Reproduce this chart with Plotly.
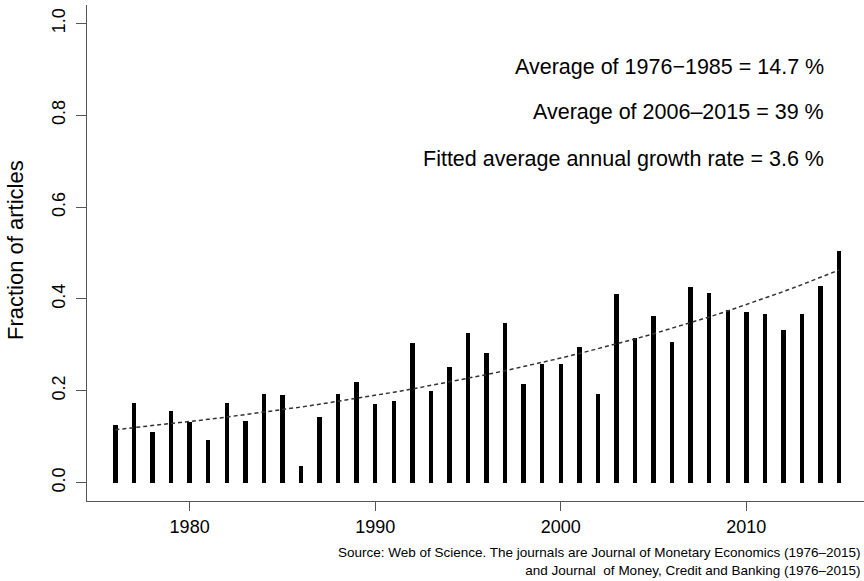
import numpy as np
import plotly.graph_objects as go

years = list(range(1976, 2016))
fraction = [0.126, 0.174, 0.110, 0.155, 0.132, 0.093, 0.173, 0.135, 0.194, 0.190,
            0.036, 0.142, 0.194, 0.220, 0.171, 0.177, 0.304, 0.199, 0.252, 0.325,
            0.283, 0.348, 0.214, 0.259, 0.258, 0.296, 0.194, 0.410, 0.314, 0.362,
            0.306, 0.426, 0.414, 0.375, 0.371, 0.367, 0.332, 0.368, 0.428, 0.504]

x_ticks = [1980, 1990, 2000, 2010]
y_ticks = [0.0, 0.2, 0.4, 0.6, 0.8, 1.0]
y_ticklabels = ["0.0", "0.2", "0.4", "0.6", "0.8", "1.0"]

info_lines = [
    "Average of 1976\u22121985 = 14.7 %",
    "Average of 2006\u20132015 = 39 %",
    "Fitted average annual growth rate = 3.6 %",
]
source_text = ("Source: Web of Science. The journals are Journal of Monetary Economics (1976\u20132015)"
               "<br>and Journal  of Money, Credit and Banking (1976\u20132015)")

# fitted exponential trend (log-linear least squares on the data)
yr = np.array(years, dtype=float)
coef = np.polyfit(yr - yr[0], np.log(np.array(fraction)), 1)
trend = np.exp(coef[1] + coef[0] * (yr - yr[0]))

FONT = "Liberation Sans, Arial, Helvetica, sans-serif"
AX = "#555555"

fig = go.Figure()
fig.add_trace(go.Bar(x=years, y=fraction, width=0.24,
                     marker=dict(color="black", line=dict(width=0)),
                     showlegend=False, hoverinfo="x+y"))
fig.add_trace(go.Scatter(x=years, y=trend, mode="lines",
                         line=dict(color="#333333", width=1.5, dash="4px,3px"),
                         showlegend=False, hoverinfo="skip"))

L, R, T, B = 87, 0, 5, 80
W, H = 864, 581
pw, ph = W - L - R, H - T - B

def px_to_paper_x(px):
    return (px - L) / pw

def px_to_paper_y(py):
    return (H - B - py) / ph

annotations = []
for txt, yc in zip(info_lines, [67.5, 112.5, 159]):
    annotations.append(dict(text=txt, xref="paper", yref="paper",
                            x=px_to_paper_x(826), y=px_to_paper_y(yc),
                            xanchor="right", yanchor="middle", showarrow=False,
                            font=dict(family=FONT, size=21.5, color="black")))
annotations.append(dict(text="Fraction of articles", xref="paper", yref="paper",
                        x=px_to_paper_x(16), y=px_to_paper_y(250), textangle=-90,
                        xanchor="center", yanchor="middle", showarrow=False,
                        font=dict(family=FONT, size=22, color="black")))
annotations.append(dict(text=source_text, xref="paper", yref="paper",
                        x=px_to_paper_x(863), y=px_to_paper_y(561), align="right",
                        xanchor="right", yanchor="middle", showarrow=False,
                        font=dict(family=FONT, size=13.5, color="black")))

fig.update_layout(
    width=W, height=H,
    margin=dict(l=L, r=R, t=T, b=B, pad=0),
    paper_bgcolor="white", plot_bgcolor="white",
    font=dict(family=FONT, color="black"),
    annotations=annotations,
    bargap=0,
    xaxis=dict(range=[1974.47, 2016.34], tickvals=x_ticks,
               showgrid=False, zeroline=False, showline=True, linecolor=AX, linewidth=1,
               ticks="outside", ticklen=9, tickcolor=AX, tickwidth=1,
               tickfont=dict(family=FONT, size=18, color="black")),
    yaxis=dict(range=[-0.04, 1.04], tickvals=y_ticks, ticktext=y_ticklabels,
               tickangle=-90, ticklabelstandoff=4,
               showgrid=False, zeroline=False, showline=True, linecolor=AX, linewidth=1,
               ticks="outside", ticklen=10, tickcolor=AX, tickwidth=1,
               tickfont=dict(family=FONT, size=18, color="black")),
)

fig.write_html("out.html")
